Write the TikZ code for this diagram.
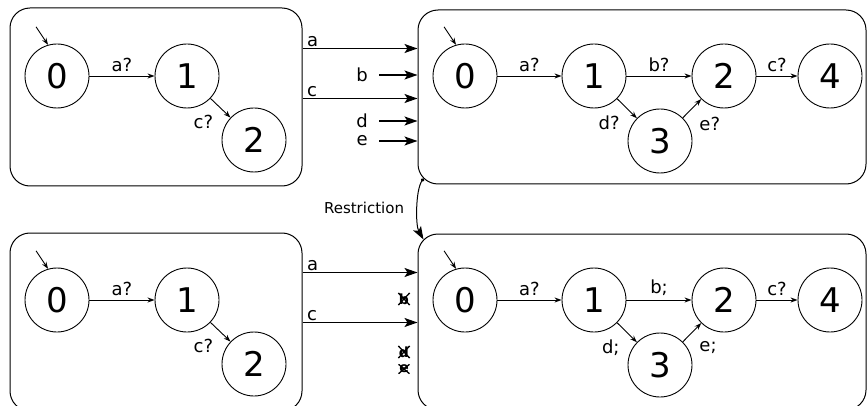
\documentclass[tikz,border=0pt]{standalone}
\usepackage{fontspec}
\setmainfont{DejaVu Sans}
\usetikzlibrary{positioning,arrows.meta,shapes.misc}

\begin{document}
\begin{tikzpicture}[x=1pt, y=-1pt, node distance=130pt, on grid,
	state/.style={draw, circle, minimum size=64pt, inner sep=0pt, line width=0.9pt, font=\fontsize{34}{34}\selectfont},
	automaton/.style={draw, rectangle, rounded corners=20pt, line width=1pt, inner sep=0pt},
	trans/.style={-{Stealth[length=7pt,width=5pt]}, line width=0.9pt},
	iface/.style={-{Stealth[length=13pt,width=9pt,inset=3pt]}, line width=1.2pt},
	lbl/.style={font=\fontsize{18}{18}\selectfont, inner sep=1pt},
	elbl/.style={lbl, inner sep=4pt},
	xlbl/.style={cross out, draw, inner sep=0pt, line width=1.3pt, font=\bfseries\fontsize{14}{14}\selectfont}]
				\useasboundingbox (0,0) rectangle (867,406);
				\clip (0,0) rectangle (867,406);
				
				% Component boxes
				\node (left1) [automaton, minimum width=292pt, minimum height=178pt] at (156,97) {};
				\node (right1) [automaton, minimum width=448pt, minimum height=174pt] at (642,97) {};
				\node (left2) [automaton, minimum width=292pt, minimum height=178pt] at (156,322) {};
				\node (right2) [automaton, minimum width=448pt, minimum height=176pt] at (642,322) {};
				
				% Upper left automaton
				\node (a0) [state] at (57,76) {0};
				\node (a1) [state, right=of a0] {1};
				\node (a2) [state, below right=64pt and 67pt of a1] {2};
				
				\draw[trans] ([shift={(-12,-18)}]a0.106) -- (a0.106);
				\draw[trans] (a0) -- node[elbl, above] {a?} (a1);
				\draw[trans] (a1) -- node[elbl, below left, xshift=-3pt, yshift=-3pt] {c?} (a2);
				
				% Upper right automaton
				\node (b0) [state] at (465,76) {0};
				\node (b1) [state, right=129pt of b0] {1};
				\node (b2) [state, right=of b1] {2};
				\node (b4) [state, right=106pt of b2] {4};
				\node (b3) [state, below right=65pt and 66pt of b1] {3};
				
				\draw[trans] ([shift={(-12,-18)}]b0.106) -- (b0.106);
				\draw[trans] (b0) -- node[elbl, above] {a?} (b1);
				\draw[trans] (b1) -- node[elbl, above] {b?} (b2);
				\draw[trans] (b2) -- node[elbl, above] {c?} (b4);
				\draw[trans] (b1) -- node[elbl, below left, xshift=-3pt, yshift=-3pt] {d?} (b3);
				\draw[trans] (b3) -- node[elbl, below right, xshift=3pt, yshift=-4pt] {e?} (b2);
				
				% Upper interface
				\draw[iface] ([yshift=-41pt]left1.north east) -- node[lbl, pos=0, anchor=south west, xshift=3pt] {a} ([yshift=-41pt]left1.north east -| right1.west);
				\draw[iface] ([yshift=-91pt]left1.north east) -- node[lbl, pos=0, anchor=south west, xshift=3pt] {c} ([yshift=-91pt]left1.north east -| right1.west);
				\node (ib) [lbl, inner sep=0pt, anchor=east] at (368,75) {b};
				\node (id) [lbl, inner sep=0pt, anchor=east] at (368,121) {d};
				\node (ie) [lbl, inner sep=0pt, anchor=east] at (368,141) {e};
				\draw[iface] ([xshift=11pt]ib.east) -- (ib.east -| right1.west);
				\draw[iface] ([xshift=11pt]id.east) -- (id.east -| right1.west);
				\draw[iface] ([xshift=11pt]ie.east) -- (ie.east -| right1.west);
				
				% Restriction
				\coordinate (rstart) at ([shift={(6,-6)}]right1.south west);
				\coordinate (rend) at ([shift={(6,6)}]right2.north west);
				\draw[{Circle[length=3.5pt]}-{Stealth[length=13pt,width=9pt,inset=3pt]}, line width=1pt] (rstart) .. controls +(-8,12) and +(-8,-14) .. node[lbl, pos=0.5, anchor=east, xshift=-12pt, font=\fontsize{15}{15}\selectfont] {Restriction} (rend);
				
				% Lower left automaton
				\node (c0) [state] at (57,300) {0};
				\node (c1) [state, right=of c0] {1};
				\node (c2) [state, below right=64pt and 67pt of c1] {2};
				
				\draw[trans] ([shift={(-12,-18)}]c0.106) -- (c0.106);
				\draw[trans] (c0) -- node[elbl, above] {a?} (c1);
				\draw[trans] (c1) -- node[elbl, below left, xshift=-3pt, yshift=-3pt] {c?} (c2);
				
				% Lower right automaton
				\node (d0) [state] at (465,300) {0};
				\node (d1) [state, right=129pt of d0] {1};
				\node (d2) [state, right=of d1] {2};
				\node (d4) [state, right=106pt of d2] {4};
				\node (d3) [state, below right=65pt and 66pt of d1] {3};
				
				\draw[trans] ([shift={(-12,-18)}]d0.106) -- (d0.106);
				\draw[trans] (d0) -- node[elbl, above] {a?} (d1);
				\draw[trans] (d1) -- node[elbl, above] {b;} (d2);
				\draw[trans] (d2) -- node[elbl, above] {c?} (d4);
				\draw[trans] (d1) -- node[elbl, below left, xshift=-3pt, yshift=-3pt] {d;} (d3);
				\draw[trans] (d3) -- node[elbl, below right, xshift=3pt, yshift=-4pt] {e;} (d2);
				
				% Lower interface
				\draw[iface] ([yshift=-40pt]left2.north east) -- node[lbl, pos=0, anchor=south west, xshift=3pt] {a} ([yshift=-40pt]left2.north east -| right2.west);
				\draw[iface] ([yshift=-90pt]left2.north east) -- node[lbl, pos=0, anchor=south west, xshift=3pt] {c} ([yshift=-90pt]left2.north east -| right2.west);
				\node (xb) [xlbl] at (404,299) {b};
				\node (xd) [xlbl] at (404,352) {d};
				\node (xe) [xlbl] at (404,369) {e};
			\end{tikzpicture}
\end{document}
